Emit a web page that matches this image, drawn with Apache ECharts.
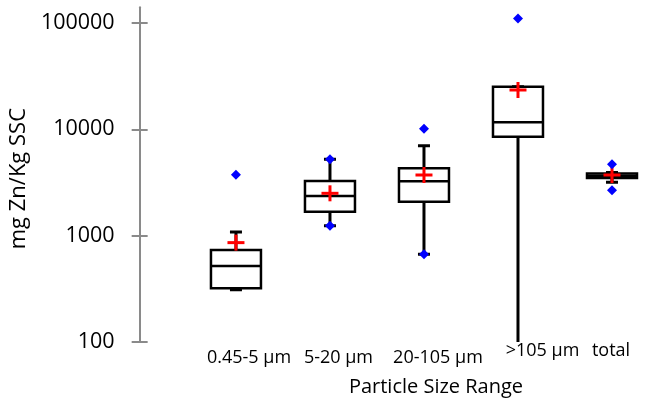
<!DOCTYPE html>
<html>
<head>
<meta charset="utf-8">
<script src="https://cdn.jsdelivr.net/npm/echarts@6/dist/echarts.min.js"></script>
<style>
  html, body { margin: 0; padding: 0; background: #ffffff; }
  #chart { width: 659px; height: 403px; }
</style>
</head>
<body>
<div id="chart"></div>
<script>
// Zinc concentration by particle size class (mg Zn / kg SSC)
const categories = ['0.45-5 μm', '5-20 μm', '20-105 μm', '>105 μm', 'total'];

// Box-and-whisker statistics per class
const whiskerLow  = [310,  1240, 668,   80,    3176];
const q1          = [320,  1680, 2086,  8525,  3486];
const median      = [518,  2361, 3245,  11650, 3660];
const q3          = [733,  3266, 4301,  25180, 3842];
const whiskerHigh = [1082, 5230, 7016,  25180, 3927];

// Arithmetic means (red crosses)
const means = [860, 2502, 3720, 23440, 3720];

// Individual extreme observations (blue markers)
const pointCategory = [0,    1,    1,    2,     2,   3,      4,    4];
const pointValue    = [3744, 5230, 1240, 10140, 668, 110000, 4690, 2670];

// Y axis tick labels
const yTicks = [100, 1000, 10000, 100000];

const FONT = "'Open Sans', sans-serif";
const AXIS_GREY = '#8a8a8a';

const boxData = categories.map((c, i) => [i, whiskerLow[i], q1[i], median[i], q3[i], whiskerHigh[i]]);
const meanData = categories.map((c, i) => [i, means[i]]);
const pointData = pointCategory.map((c, i) => [c, pointValue[i]]);

function renderBox(params, api) {
  const i = api.value(0);
  const xc = api.coord([i, api.value(3)])[0];
  const yLow = api.coord([i, api.value(1)])[1];
  const yQ1 = api.coord([i, api.value(2)])[1];
  const yMed = api.coord([i, api.value(3)])[1];
  const yQ3 = api.coord([i, api.value(4)])[1];
  const yHigh = api.coord([i, api.value(5)])[1];
  const half = 25;
  const cap = 6;
  const w = { stroke: '#000', lineWidth: 3 };
  return {
    type: 'group',
    children: [
      { type: 'line', shape: { x1: xc, y1: yLow, x2: xc, y2: yQ1 }, style: w },
      { type: 'line', shape: { x1: xc, y1: yQ3, x2: xc, y2: yHigh }, style: w },
      { type: 'line', shape: { x1: xc - cap, y1: yLow, x2: xc + cap, y2: yLow }, style: w },
      { type: 'line', shape: { x1: xc - cap, y1: yHigh, x2: xc + cap, y2: yHigh }, style: w },
      { type: 'rect', shape: { x: xc - half, y: yQ3, width: half * 2, height: yQ1 - yQ3 },
        style: { fill: '#fff', stroke: '#000', lineWidth: 2.5 } },
      { type: 'line', shape: { x1: xc - half, y1: yMed, x2: xc + half, y2: yMed },
        style: { stroke: '#000', lineWidth: 2.5 } }
    ]
  };
}

function renderCross(params, api) {
  const p = api.coord([api.value(0), api.value(1)]);
  const s = { stroke: '#ff0000', lineWidth: 3 };
  return {
    type: 'group',
    children: [
      { type: 'line', shape: { x1: p[0] - 8.5, y1: p[1], x2: p[0] + 8.5, y2: p[1] }, style: s },
      { type: 'line', shape: { x1: p[0], y1: p[1] - 8, x2: p[0], y2: p[1] + 8 }, style: s }
    ]
  };
}

// per-label nudges: [top, right, bottom, left]
const labelPad = [
  [7, 0, 0, 26],
  [7, 0, 0, 17],
  [7, 0, 0, 28],
  [0, 0, 0, 49],
  [0, 2, 0, 0]
];
const rich = {};
labelPad.forEach((p, i) => {
  rich['l' + i] = { fontFamily: FONT, fontSize: 18, color: '#000', padding: p };
});

const yBase = {
  type: 'log',
  logBase: 10,
  min: 100,
  max: 140500,
  position: 'left',
  offset: 49.3,
  splitLine: { show: false }
};

const option = {
  animation: false,
  backgroundColor: '#ffffff',
  grid: { left: 182, right: -11.6, top: 7.3, bottom: 61 },
  xAxis: {
    type: 'category',
    data: categories,
    axisLine: { show: false },
    axisTick: { show: false },
    axisLabel: {
      interval: 0,
      hideOverlap: false,
      margin: 0,
      formatter: (v, idx) => '{l' + idx + '|' + v + '}',
      rich: rich
    },
    name: 'Particle Size Range',
    nameLocation: 'middle',
    nameGap: 35,
    nameTextStyle: { fontFamily: FONT, fontSize: 20, color: '#000', padding: [0, 0, 0, 24] }
  },
  yAxis: [
    Object.assign({}, yBase, {
      axisLine: { show: true, lineStyle: { color: AXIS_GREY, width: 2 } },
      axisTick: { show: true, length: 8, customValues: yTicks, lineStyle: { color: AXIS_GREY, width: 2 } },
      axisLabel: { customValues: yTicks, margin: 25, fontFamily: FONT, fontSize: 21.5, color: '#000',
                   formatter: v => String(v) },
      name: 'mg Zn/Kg SSC',
      nameLocation: 'middle',
      nameGap: 95,
      nameTextStyle: { fontFamily: FONT, fontSize: 22, color: '#000', padding: [0, 8, 0, 0] }
    }),
    Object.assign({}, yBase, {
      axisLine: { show: false },
      axisTick: { show: true, inside: true, length: 8, customValues: yTicks, lineStyle: { color: AXIS_GREY, width: 2 } },
      axisLabel: { show: false }
    })
  ],
  series: [
    {
      type: 'custom',
      name: 'box',
      clip: true,
      z: 2,
      renderItem: renderBox,
      encode: { x: 0, y: [1, 2, 3, 4, 5] },
      data: boxData
    },
    {
      type: 'custom',
      name: 'mean',
      z: 3,
      renderItem: renderCross,
      encode: { x: 0, y: 1 },
      data: meanData
    },
    {
      type: 'scatter',
      name: 'points',
      z: 4,
      symbol: 'diamond',
      symbolSize: 10,
      itemStyle: { color: '#0000ff', opacity: 1 },
      data: pointData
    }
  ]
};

const chart = echarts.init(document.getElementById('chart'), null, { renderer: 'canvas' });
chart.setOption(option);
</script>
</body>
</html>
